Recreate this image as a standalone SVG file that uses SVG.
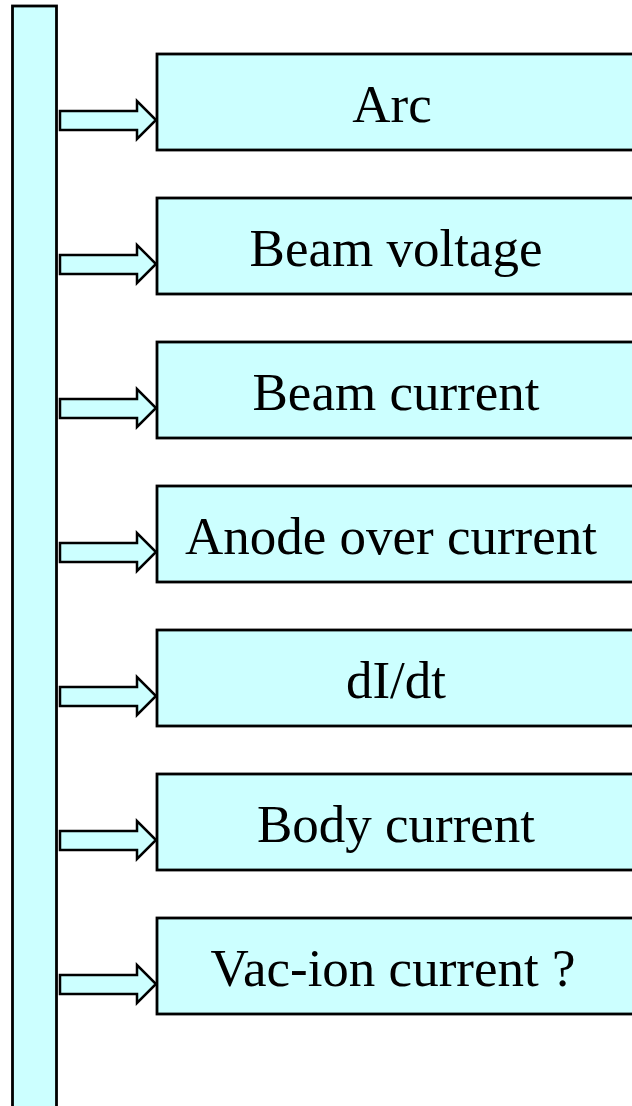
<svg xmlns="http://www.w3.org/2000/svg" width="632" height="1106" viewBox="0 0 632 1106">
<style>
.n{fill:#CCFFFF;stroke:#000;stroke-width:2.8}
.a{fill:#CCFFFF;stroke:#000;stroke-width:2.5;stroke-linejoin:miter}
.t{font-family:"Liberation Serif",serif;font-size:53px;fill:#000;text-anchor:middle}
</style>
<rect width="632" height="1106" fill="#fff"/>
<g id="bar"><rect class="n" x="12.5" y="6" width="44" height="1110"/></g>
<g id="connectors">
<path class="a" d="M60,111 H137 V101 L156,120 L137,139 V130 H60 Z"/>
<path class="a" d="M60,255 H137 V245 L156,264 L137,283 V274 H60 Z"/>
<path class="a" d="M60,399 H137 V389 L156,408 L137,427 V418 H60 Z"/>
<path class="a" d="M60,543 H137 V533 L156,552 L137,571 V562 H60 Z"/>
<path class="a" d="M60,687 H137 V677 L156,696 L137,715 V706 H60 Z"/>
<path class="a" d="M60,831 H137 V821 L156,840 L137,859 V850 H60 Z"/>
<path class="a" d="M60,975 H137 V965 L156,984 L137,1003 V994 H60 Z"/>
</g>
<g id="n1"><rect class="n" x="157" y="54" width="490" height="96"/><text class="t" x="392" y="122">Arc</text></g>
<g id="n2"><rect class="n" x="157" y="198" width="490" height="96"/><text class="t" x="396" y="266">Beam voltage</text></g>
<g id="n3"><rect class="n" x="157" y="342" width="490" height="96"/><text class="t" x="396" y="410">Beam current</text></g>
<g id="n4"><rect class="n" x="157" y="486" width="490" height="96"/><text class="t" x="391" y="554">Anode over current</text></g>
<g id="n5"><rect class="n" x="157" y="630" width="490" height="96"/><text class="t" x="396" y="698">dI/dt</text></g>
<g id="n6"><rect class="n" x="157" y="774" width="490" height="96"/><text class="t" x="396" y="842">Body current</text></g>
<g id="n7"><rect class="n" x="157" y="918" width="490" height="96"/><text class="t" x="393" y="986">Vac-ion current ?</text></g>
</svg>
